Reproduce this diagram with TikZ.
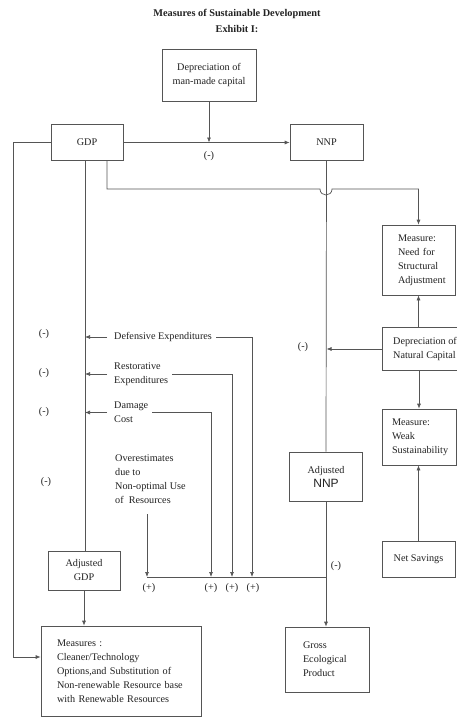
\documentclass[tikz,border=0pt]{standalone}
\usepackage{fontspec}
\setmainfont{Liberation Serif}
\newfontfamily\nnpfont{Liberation Sans}
\usetikzlibrary{arrows.meta,calc}
\definecolor{ink}{HTML}{222222}
\definecolor{ln}{HTML}{555555}
\tikzset{
  every node/.style={font=\fontsize{10.2}{14}\selectfont, text=ink},
  box/.style={draw=ln, line width=0.7pt, inner sep=0pt, align=center},
  lbox/.style={box, align=left},
  wire/.style={draw=ln, line width=0.7pt},
  arr/.style={wire, -{Latex[length=5pt,width=4pt]}},
  lab/.style={inner sep=0pt},
  txt/.style={inner xsep=4pt, inner ysep=2pt, align=left},
}
\begin{document}
\begin{tikzpicture}[x=1pt,y=-1pt]
\useasboundingbox[fill=white] (0,0) rectangle (456,717);

% title
\node[align=center, font=\bfseries\fontsize{10.3}{16}\selectfont] (title) at (237,21) {Measures of Sustainable Development\\Exhibit I:};

% boxes
\node[box, minimum width=94pt, minimum height=52pt] (dep) at (209,75) {Depreciation of\\man-made capital};
\node[box, minimum width=72pt, minimum height=36pt] (gdp) at (87,142.5) {GDP};
\node[box, minimum width=73pt, minimum height=36pt] (nnp) at (326.5,142.5) {NNP};
\node[lbox, minimum width=73pt, minimum height=70pt, text width=41pt] (nsa) at (418.5,260) {Measure:\\Need~for\\Structural\\Adjustment};
\node[lbox, minimum width=86pt, minimum height=43pt] (depnat) at (425,349) {Depreciation of\\Natural Capital};
\node[lbox, minimum width=74pt, minimum height=56pt, text width=54pt] (weak) at (419,437) {Measure:\\Weak\\Sustainability};
\node[box, minimum width=73pt, minimum height=36pt] (netsav) at (418.5,559) {Net Savings};
\node[box, minimum width=73pt, minimum height=49pt] (adjnnp) at (326,476.5) {Adjusted\\{\nnpfont\fontsize{12}{14}\selectfont NNP}};
\node[box, minimum width=72pt, minimum height=39pt] (adjgdp) at (84,570.5) {Adjusted\\GDP};
\node[lbox, minimum width=160pt, minimum height=90pt, text width=128pt] (meas) at (121,671) {Measures :\\Cleaner/Technology\\Options,and Substitution of\\Non-renewable Resource base\\with Renewable Resources};
\node[lbox, minimum width=84pt, minimum height=65pt, text width=48pt] (geo) at (327,659.5) {Gross\\Ecological\\Product};

% free texts
\node[txt, anchor=west] (def) at (110,337) {Defensive Expenditures};
\node[txt, anchor=west] (res) at (110,374) {Restorative\\Expenditures};
\node[txt, anchor=west] (dmg) at (110,412.5) {Damage\\Cost};
\node[txt, anchor=north west] (ove) at (111,453) {Overestimates\\due to\\Non-optimal Use\\of~~Resources};

% coordinates
\coordinate (gx) at (85,0);
\coordinate (lx) at (13,0);
\coordinate (mlin) at (0,657);
\coordinate (ja) at (107,189);
\coordinate (jb) at (320,189);
\coordinate (jc) at (332,189);
\coordinate (jd) at (418.5,189);
\coordinate (busR) at (326,577);
\coordinate (p1) at (147,577);
\coordinate (p2) at (211,577);
\coordinate (p3) at (232,577);
\coordinate (p4) at (252,577);

% connectors
\draw[arr] (dep.south) -- (dep.south |- gdp.east);
\draw[arr] (gdp.east) -- (nnp.west);
\draw[arr] (gdp.west) -- (gdp.west -| lx) -- (lx |- mlin) -- (mlin -| meas.west);
\draw[wire] (gdp.south -| gx) -- (adjgdp.north -| gx);
\draw[arr] (adjgdp.south) -- (adjgdp.south |- meas.north);
\draw[arr] (gdp.south -| ja) -- (ja) -- (jb) .. controls +(0,8) and +(0,8) .. (jc) -- (jd) -- (nsa.north);
\draw[wire] (nnp.south) -- (adjnnp.north);
\draw[arr] (adjnnp.south) -- (adjnnp.south |- geo.north);
\draw[arr] (depnat.west) -- (depnat.west -| nnp.south);
\draw[arr] (depnat.north -| nsa.south) -- (nsa.south);
\draw[arr] (depnat.south -| weak.north) -- (weak.north);
\draw[arr] (netsav.north) -- (netsav.north |- weak.south);

\draw[arr] ($(def.west)+(-3,0)$) -- (def.west -| gx);
\draw[arr] ($(res.west)+(-3,0)$) -- (res.west -| gx);
\draw[arr] ($(dmg.west)+(-3,0)$) -- (dmg.west -| gx);

\draw[wire] (busR) -- (p1);
\draw[arr] (def.east) -| (p4);
\draw[arr] (res.east) -| (p3);
\draw[arr] (dmg.east) -| (p2);
\draw[arr] ($(ove.south -| p1)+(0,8)$) -- (p1);

% signs
\node[lab] (m0) at (209,156) {(-)};
\node[lab] (m1) at (44,334) {(-)};
\node[lab] (m2) at (44,373) {(-)};
\node[lab] (m3) at (44,412) {(-)};
\node[lab] (m4) at (46,482) {(-)};
\node[lab] (m5) at (303,347) {(-)};
\node[lab] (m6) at (336,566) {(-)};
\node[lab] (q1) at (149,588) {(+)};
\node[lab] (q2) at (211,588) {(+)};
\node[lab] (q3) at (232,588) {(+)};
\node[lab] (q4) at (253,588) {(+)};
\end{tikzpicture}
\end{document}
